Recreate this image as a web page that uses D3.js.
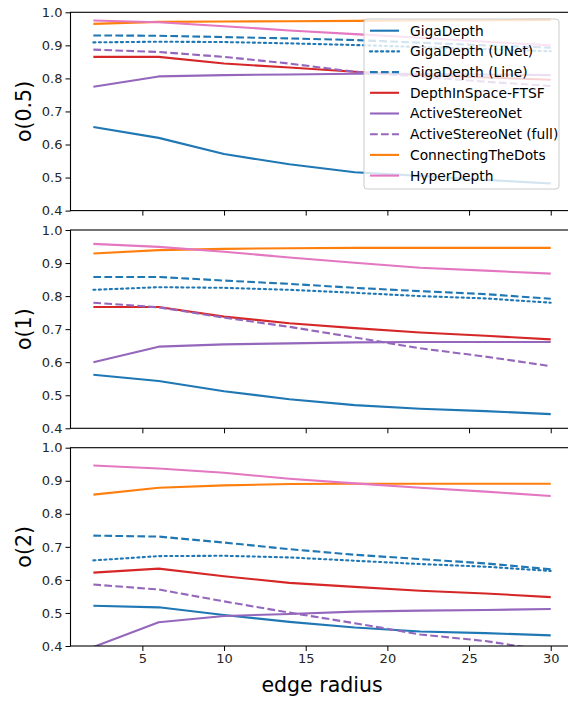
<!DOCTYPE html>
<html>
<head>
<meta charset="utf-8">
<script src="https://cdn.jsdelivr.net/npm/d3@7"></script>
<style>
  html, body { margin: 0; padding: 0; background: #fff; }
  svg { display: block; font-family: "DejaVu Sans", sans-serif; }
</style>
</head>
<body>
<div id="chart"></div>
<script>
// ---------- data ----------
const radii = [2, 6, 10, 14, 18, 22, 26, 30];
const methods = ["GigaDepth", "GigaDepth (UNet)", "GigaDepth (Line)", "DepthInSpace-FTSF",
                 "ActiveStereoNet", "ActiveStereoNet (full)", "ConnectingTheDots", "HyperDepth"];
const panelLabels = ["o(0.5)", "o(1)", "o(2)"];
const yTicks = [0.4, 0.5, 0.6, 0.7, 0.8, 0.9, 1.0];
const xTicks = [5, 10, 15, 20, 25, 30];

// o(0.5)
const o05_gigaDepth     = [0.653, 0.620, 0.571, 0.540, 0.516, 0.505, 0.493, 0.482];
const o05_gigaUNet      = [0.909, 0.911, 0.910, 0.906, 0.901, 0.895, 0.889, 0.882];
const o05_gigaLine      = [0.930, 0.929, 0.925, 0.921, 0.916, 0.908, 0.900, 0.893];
const o05_depthInSpace  = [0.865, 0.865, 0.845, 0.833, 0.820, 0.810, 0.803, 0.796];
const o05_activeStereo  = [0.775, 0.806, 0.810, 0.812, 0.814, 0.814, 0.812, 0.810];
const o05_activeFull    = [0.887, 0.880, 0.865, 0.845, 0.820, 0.805, 0.790, 0.777];
const o05_connectDots   = [0.965, 0.971, 0.972, 0.973, 0.974, 0.975, 0.976, 0.977];
const o05_hyperDepth    = [0.975, 0.970, 0.958, 0.945, 0.934, 0.923, 0.911, 0.900];

// o(1)
const o1_gigaDepth      = [0.562, 0.543, 0.512, 0.488, 0.470, 0.459, 0.452, 0.443];
const o1_gigaUNet       = [0.819, 0.827, 0.825, 0.819, 0.810, 0.800, 0.793, 0.780];
const o1_gigaLine       = [0.858, 0.858, 0.847, 0.837, 0.825, 0.815, 0.806, 0.792];
const o1_depthInSpace   = [0.767, 0.767, 0.738, 0.718, 0.703, 0.690, 0.680, 0.669];
const o1_activeStereo   = [0.600, 0.647, 0.654, 0.657, 0.660, 0.661, 0.661, 0.661];
const o1_activeFull     = [0.780, 0.766, 0.735, 0.707, 0.675, 0.642, 0.617, 0.588];
const o1_connectDots    = [0.929, 0.939, 0.943, 0.945, 0.946, 0.946, 0.946, 0.946];
const o1_hyperDepth     = [0.958, 0.949, 0.934, 0.917, 0.901, 0.886, 0.877, 0.868];

// o(2)
const o2_gigaDepth      = [0.522, 0.517, 0.494, 0.473, 0.456, 0.444, 0.439, 0.432];
const o2_gigaUNet       = [0.659, 0.672, 0.673, 0.668, 0.658, 0.648, 0.640, 0.627];
const o2_gigaLine       = [0.734, 0.731, 0.713, 0.693, 0.676, 0.663, 0.650, 0.632];
const o2_depthInSpace   = [0.622, 0.634, 0.611, 0.591, 0.579, 0.567, 0.559, 0.548];
const o2_activeStereo   = [0.397, 0.472, 0.491, 0.497, 0.504, 0.507, 0.509, 0.512];
const o2_activeFull     = [0.586, 0.571, 0.535, 0.501, 0.469, 0.435, 0.415, 0.385];
const o2_connectDots    = [0.858, 0.879, 0.886, 0.890, 0.891, 0.891, 0.891, 0.891];
const o2_hyperDepth     = [0.946, 0.937, 0.924, 0.906, 0.892, 0.879, 0.867, 0.854];

const panels = [
  [o05_gigaDepth, o05_gigaUNet, o05_gigaLine, o05_depthInSpace, o05_activeStereo, o05_activeFull, o05_connectDots, o05_hyperDepth],
  [o1_gigaDepth, o1_gigaUNet, o1_gigaLine, o1_depthInSpace, o1_activeStereo, o1_activeFull, o1_connectDots, o1_hyperDepth],
  [o2_gigaDepth, o2_gigaUNet, o2_gigaLine, o2_depthInSpace, o2_activeStereo, o2_activeFull, o2_connectDots, o2_hyperDepth]
];

// ---------- styles ----------
const colors = ["#1f77b4", "#1f77b4", "#1f77b4", "#d62728", "#9467bd", "#9467bd", "#ff7f0e", "#e377c2"];
const dashes = [null, "2.1,3.4", "7.7,3.3", null, null, "7.7,3.3", null, null];

const W = 568, H = 702;
const svg = d3.select("#chart").append("svg").attr("width", W).attr("height", H);

const x = d3.scaleLinear().domain([0.6, 31.4]).range([70.5, 573.6]);
const panelTops = [12.3, 230.0, 447.7];
const panelH = 198.3;

panels.forEach((series, pi) => {
  const top = panelTops[pi];
  const y = d3.scaleLinear().domain([0.4, 1.0]).range([top + panelH, top]);
  const g = svg.append("g");

  const clipId = "clip" + pi;
  svg.append("clipPath").attr("id", clipId).append("rect")
    .attr("x", x.range()[0]).attr("y", top)
    .attr("width", x.range()[1] - x.range()[0]).attr("height", panelH);

  const line = d3.line().x((d, i) => x(radii[i])).y(d => y(d));
  const lg = g.append("g").attr("clip-path", `url(#${clipId})`);
  series.forEach((vals, si) => {
    lg.append("path")
      .attr("d", line(vals))
      .attr("fill", "none")
      .attr("stroke", colors[si])
      .attr("stroke-width", 2.1)
      .attr("stroke-dasharray", dashes[si])
      .attr("stroke-linecap", dashes[si] && si === 1 ? "round" : "butt")
      .attr("stroke-linejoin", "round");
  });

  // y axis
  const yAxis = d3.axisLeft(y).tickValues(yTicks).tickFormat(d3.format(".1f")).tickSize(5).tickPadding(3);
  const ya = g.append("g").attr("transform", `translate(${x.range()[0]},0)`).call(yAxis);
  ya.select(".domain").remove();
  ya.selectAll("text").attr("font-size", 13).attr("fill", "#262626").attr("font-family", "DejaVu Sans");
  ya.selectAll("line").attr("stroke", "#000").attr("stroke-width", 1);

  // x axis
  const xAxis = d3.axisBottom(x).tickValues(xTicks).tickSize(5).tickPadding(3)
    .tickFormat(pi === 2 ? d3.format("d") : () => "");
  const xa = g.append("g").attr("transform", `translate(0,${top + panelH})`).call(xAxis);
  xa.select(".domain").remove();
  xa.selectAll("text").attr("font-size", 13).attr("fill", "#262626").attr("font-family", "DejaVu Sans");
  xa.selectAll("line").attr("stroke", "#000").attr("stroke-width", 1);

  // spines
  g.append("rect")
    .attr("x", x.range()[0]).attr("y", top)
    .attr("width", x.range()[1] - x.range()[0]).attr("height", panelH)
    .attr("fill", "none").attr("stroke", "#000").attr("stroke-width", 1.1);

  // y label
  g.append("text")
    .attr("transform", `translate(30.5,${top + panelH / 2}) rotate(-90)`)
    .attr("text-anchor", "middle")
    .attr("font-size", 20.5)
    .attr("fill", "#000")
    .text(panelLabels[pi]);

  // legend in first panel
  if (pi === 0) {
    const lgX = 364, lgY = 19, lgW = 195, lgH = 170;
    const leg = svg.append("g");
    leg.append("rect")
      .attr("x", lgX).attr("y", lgY).attr("width", lgW).attr("height", lgH)
      .attr("rx", 3).attr("ry", 3)
      .attr("fill", "#fff").attr("fill-opacity", 0.8)
      .attr("stroke", "#cccccc").attr("stroke-width", 1);
    methods.forEach((m, si) => {
      const ry = 30.7 + si * 20.7;
      leg.append("line")
        .attr("x1", lgX + 6).attr("x2", lgX + 35)
        .attr("y1", ry).attr("y2", ry)
        .attr("stroke", colors[si]).attr("stroke-width", 2.1)
        .attr("stroke-dasharray", dashes[si])
        .attr("stroke-linecap", si === 1 ? "round" : "butt");
      leg.append("text")
        .attr("x", lgX + 46).attr("y", ry)
        .attr("dy", "0.36em")
        .attr("font-size", 13.8)
        .attr("fill", "#000")
        .text(m);
    });
  }
});

// x label
svg.append("text")
  .attr("x", x(16)).attr("y", 692)
  .attr("text-anchor", "middle")
  .attr("font-size", 20.5)
  .attr("fill", "#000")
  .text("edge radius");
</script>
</body>
</html>
